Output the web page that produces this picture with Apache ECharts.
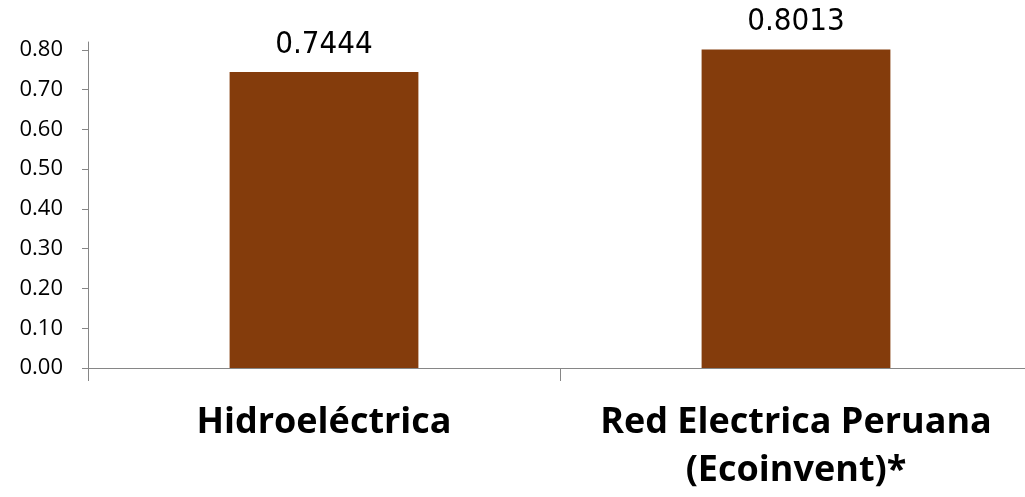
<!DOCTYPE html>
<html><head><meta charset="utf-8">
<script src="https://cdn.jsdelivr.net/npm/echarts@6/dist/echarts.min.js"></script>
<style>html,body{margin:0;padding:0;background:#fff;overflow:hidden}#c{width:1032px;height:497px}</style>
</head><body><div id="c"></div>
<script>
const categories = ['Hidroeléctrica', 'Red Electrica Peruana\n(Ecoinvent)*'];
const values = [0.7444, 0.8013];
const yTicks = [0, 0.1, 0.2, 0.3, 0.4, 0.5, 0.6, 0.7, 0.8];

const chart = echarts.init(document.getElementById('c'), null, {renderer: 'canvas'});
chart.setOption({
  animation: false,
  grid: {left: 88, top: 42, right: 0, height: 326, containLabel: false},
  xAxis: {
    type: 'category', data: categories,
    axisLine: {lineStyle: {color: '#868686', width: 1}},
    axisTick: {show: true, alignWithLabel: false, length: 13, lineStyle: {color: '#868686'}},
    axisLabel: {
      color: '#000', fontFamily: 'Open Sans', fontWeight: 'bold', fontSize: 36,
      lineHeight: 48, margin: 31, interval: 0
    }
  },
  yAxis: {
    type: 'value', min: 0, max: 0.82,
    axisLine: {show: true, lineStyle: {color: '#868686', width: 1}},
    axisTick: {show: true, length: 6, customValues: yTicks, lineStyle: {color: '#868686'}},
    splitLine: {show: false},
    axisLabel: {
      color: '#000', fontFamily: 'Open Sans', fontSize: 22, margin: 25,
      customValues: yTicks,
      formatter: v => v.toFixed(2)
    }
  },
  series: [{
    type: 'bar', data: values, barWidth: '40%',
    itemStyle: {color: '#843C0C'},
    label: {
      show: true, position: 'top', distance: 12,
      color: '#000', fontFamily: 'DejaVu Sans Condensed', fontSize: 31,
      formatter: p => p.value.toFixed(4)
    }
  }]
});
</script></body></html>
